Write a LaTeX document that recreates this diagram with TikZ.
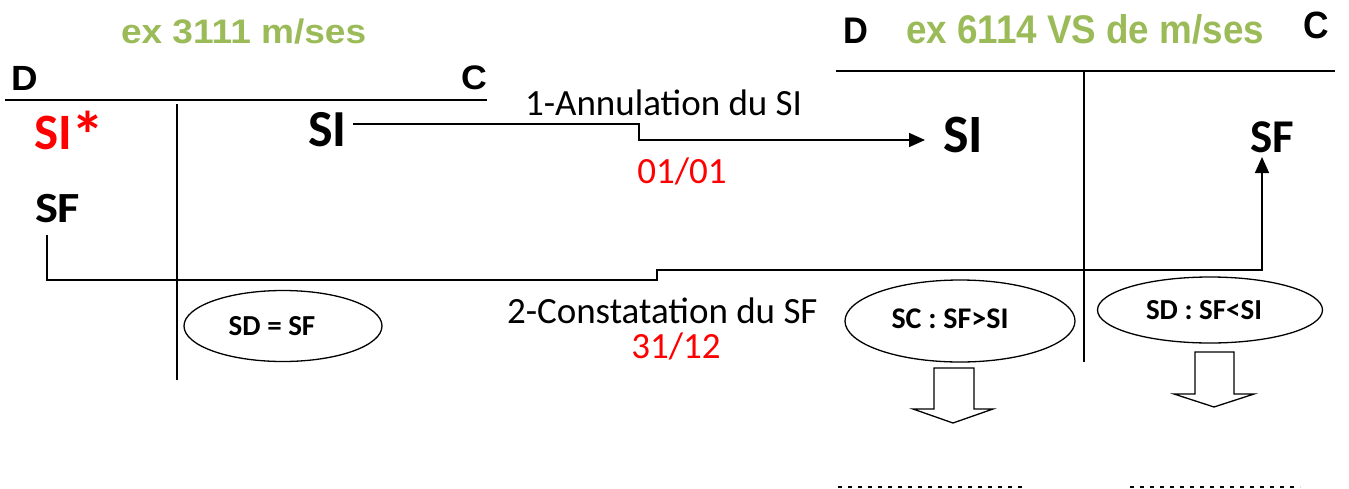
\documentclass[tikz,border=0pt]{standalone}
\usepackage{graphicx}
\usepackage{fontspec}
\setmainfont{Carlito}
\newfontfamily\arialf{Liberation Sans}
\usetikzlibrary{arrows.meta,shapes.geometric}
\definecolor{titlegreen}{HTML}{9BBB59}
\definecolor{pured}{HTML}{FF0000}
\newcommand{\fsz}[1]{\fontsize{#1}{#1}\selectfont}
\begin{document}
\begin{tikzpicture}[x=1pt,y=-1pt,
  txt/.style={inner sep=0pt,outer sep=0pt,anchor=base west},
  ctxt/.style={inner sep=0pt,outer sep=0pt,anchor=base},
  tline/.style={line width=1.5pt},
  conn/.style={line width=1.5pt,-{Triangle[length=16pt,width=14pt]}},
  oval/.style={draw,ellipse,line width=1.3pt,inner sep=0pt,font=\bfseries\fsz{29}},
  blockarrow/.style={draw,line width=1.3pt,fill=white,line join=miter},
  dots/.style={line width=2pt,dash pattern=on 4pt off 6pt}]
\useasboundingbox[fill=white] (0,0) rectangle (1349,488);

% ---- left T-account
\node[txt,font=\arialf\bfseries\fsz{34},text=titlegreen] (t1) at (121,43) {\scalebox{1.09}[1]{ex 3111 m/ses}};
\node[txt,font=\arialf\bfseries\fsz{35}] (d1) at (11,90) {\scalebox{1.05}[1]{D}};
\node[txt,font=\arialf\bfseries\fsz{34}] (c1) at (461,89) {\scalebox{1.05}[1]{C}};
\draw[tline] (5,100) -- (487,100);
\draw[tline] (177,104) -- (177,380);
\node[txt,font=\bfseries\fsz{51},text=pured] (sistar) at (34,149) {SI\raisebox{-9pt}{\scalebox{1.3}{*}}};
\node[txt,font=\bfseries\fsz{43}] (sfL) at (35,222) {\scalebox{1.13}[1]{SF}};
\node[txt,font=\bfseries\fsz{52}] (siL) at (308,146) {SI};

% ---- right T-account
\node[txt,font=\arialf\bfseries\fsz{37}] (d2) at (843,43) {\scalebox{0.93}[1]{D}};
\node[txt,font=\arialf\bfseries\fsz{40},text=titlegreen] (t2) at (906,43) {\scalebox{0.92}[1]{ex 6114 VS de m/ses}};
\node[txt,font=\arialf\bfseries\fsz{38}] (c2) at (1303,38) {\scalebox{0.93}[1]{C}};
\draw[tline] (836,71) -- (1335,71);
\draw[tline] (1084,71) -- (1084,362);
\node[txt,font=\bfseries\fsz{54}] (siR) at (943,152) {SI};
\node[txt,font=\bfseries\fsz{47}] (sfR) at (1250,152) {SF};

% ---- connector 1
\coordinate (a1) at (353,124);
\coordinate (a2) at (639,124);
\coordinate (a3) at (639,140);
\coordinate (a4) at (925,140);
\draw[conn] (a1) -- (a2) -- (a3) -- (a4);
\node[txt,font=\fsz{37}] (lab1) at (525,115) {1-Annulation du SI};
\node[ctxt,font=\fsz{37},text=pured] (date1) at (682,183) {01/01};

% ---- connector 2
\coordinate (b1) at (47,235);
\coordinate (b2) at (47,280);
\coordinate (b3) at (657,280);
\coordinate (b4) at (657,270);
\coordinate (b5) at (1262,270);
\coordinate (b6) at (1262,157);
\draw[conn] (b1) -- (b2) -- (b3) -- (b4) -- (b5) -- (b6);
\node[txt,font=\fsz{37}] (lab2) at (507,323) {2-Constatation du SF};
\node[ctxt,font=\fsz{37},text=pured] (date2) at (676,358) {31/12};

% ---- ellipses
\node[oval,minimum width=198pt,minimum height=71pt] (e1) at (283,326) {\hspace*{-22pt}SD = SF};
\node[oval,minimum width=230pt,minimum height=82pt,font=\bfseries\fsz{30}] (e2) at (960,321) {\hspace*{-20pt}\raisebox{4pt}{SC : SF>SI}};
\node[oval,minimum width=225pt,minimum height=66pt] (e3) at (1210,310) {\hspace*{-12pt}\raisebox{-4pt}{SD : SF<SI}};

% ---- block arrows
\draw[blockarrow] (934,368) -- (974,368) -- (974,409) -- (993,409) -- (953,423) -- (913,409) -- (934,409) -- cycle;
\draw[blockarrow] (1195,352) -- (1234,352) -- (1234,394) -- (1254,394) -- (1214,407) -- (1174,394) -- (1195,394) -- cycle;

% ---- dotted answer lines
\draw[dots] (838,486.5) -- (1022,486.5);
\draw[dots] (1130,486.5) -- (1300,486.5);
\end{tikzpicture}
\end{document}
